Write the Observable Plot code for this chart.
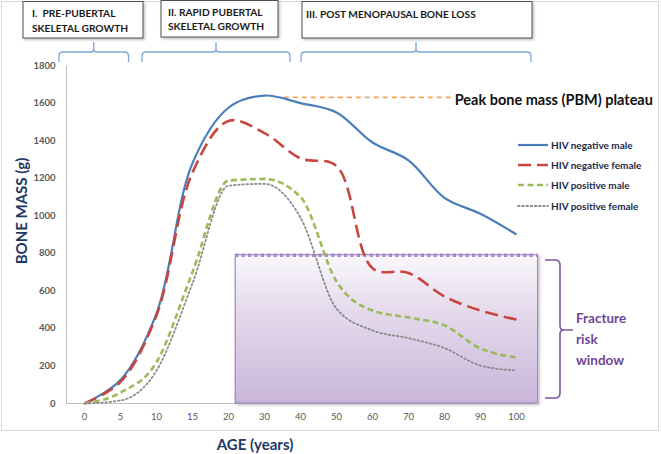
<!DOCTYPE html>
<html>
<head>
<meta charset="utf-8">
<script src="https://cdn.jsdelivr.net/npm/d3@7"></script>
<script src="https://cdn.jsdelivr.net/npm/@observablehq/plot@0.6"></script>
<style>
  html, body { margin: 0; padding: 0; background: #fff; }
  #chart { width: 661px; height: 454px; position: relative; }
</style>
</head>
<body>
<div id="chart"></div>
<script>
// ---- data ----
const ages = [0, 5, 10, 15, 20, 30, 40, 50, 60, 70, 80, 90, 100];
const hivNegMale   = [0, 125, 480, 1280, 1575, 1640, 1600, 1550, 1390, 1295, 1095, 1010, 900];
const hivNegFemale = [0, 115, 470, 1230, 1505, 1440, 1305, 1265, 720, 695, 570, 495, 447];
const hivPosMale   = [0, 58, 220, 700, 1187, 1196, 1100, 650, 495, 458, 416, 293, 245];
const hivPosFemale = [0, 16, 175, 640, 1160, 1170, 990, 505, 389, 348, 295, 202, 176];
const yTicks = [0, 200, 400, 600, 800, 1000, 1200, 1400, 1600, 1800];
const seriesNames = ["HIV negative male", "HIV negative female", "HIV positive male", "HIV positive female"];
const phaseLabels = [["I.  PRE-PUBERTAL", "SKELETAL GROWTH"], ["II. RAPID PUBERTAL", "SKELETAL GROWTH"], ["III. POST MENOPAUSAL BONE LOSS"]];
const pbmValue = 1630;          // plateau level
const pbmAges = [35.5, 82];      // extent of plateau marker
const riskTop = 790;             // fracture risk window threshold
const riskAges = [22, 106];      // extent of fracture risk window
const annotationText = "Peak bone mass (PBM) plateau";
const riskText = ["Fracture", "risk", "window"];

// ages are plotted as evenly spaced categories
const agePos = a => a <= 20 ? a / 5 : 4 + (a - 20) / 10;

const colors = ["#4a7ebb", "#c9463f", "#9bbb59", "#8c8c8c"];
const dashes = [null, "13,6", "6,3.5", "1.6,2.6"];
const widths = [2.2, 2.6, 2.6, 1.8];
const curves = ["catmull-rom", "catmull-rom", "monotone-x", "monotone-x"];
const allSeries = [hivNegMale, hivNegFemale, hivPosMale, hivPosFemale];

const font = "Lato, 'Open Sans', sans-serif";

const lineMarks = allSeries.map((vals, s) =>
  Plot.line(ages.map((a, i) => ({pos: agePos(a), v: vals[i]})), {
    x: "pos", y: "v",
    stroke: colors[s], strokeWidth: widths[s],
    strokeDasharray: dashes[s] || undefined,
    curve: curves[s], strokeLinecap: s === 3 ? "round" : "butt"
  })
);

const plot = Plot.plot({
  width: 661, height: 454,
  marginTop: 65, marginBottom: 51, marginLeft: 66, marginRight: 127,
  style: {fontFamily: font, background: "transparent", overflow: "visible"},
  x: {type: "linear", domain: [-0.5, 12.5]},
  y: {domain: [0, 1800]},
  marks: [
    Plot.ruleX([-0.5], {stroke: "#bfbfbf"}),
    Plot.ruleY([0], {stroke: "#bfbfbf"}),
    Plot.axisX(d3.range(ages.length), {tickSize: 0, tickPadding: 9.5, tickFormat: i => String(ages[i]), fill: "#595959", fontSize: 9.5, label: null}),
    Plot.axisY(yTicks, {tickSize: 0, tickPadding: 11, tickFormat: d => String(d), fill: "#595959", fontSize: 9.5, fontWeight: "bold", label: null}),
    Plot.rect([riskAges], {
      x1: d => agePos(d[0]), x2: d => agePos(d[1]), y1: () => 0, y2: () => riskTop,
      fill: "#cbb8da", stroke: "#9f89bb", strokeWidth: 1.2, ariaLabel: "riskwindow"
    }),
    Plot.ruleY([riskTop], {x1: agePos(riskAges[0]), x2: agePos(riskAges[1]), stroke: "#a68ac9", strokeWidth: 3.5, strokeDasharray: "3.2,3.2"}),
    Plot.ruleY([pbmValue], {x1: agePos(pbmAges[0]), x2: agePos(pbmAges[1]), stroke: "#f4a35c", strokeWidth: 1.6, strokeDasharray: "5,4"}),
    Plot.text([annotationText], {x: agePos(pbmAges[1]), y: pbmValue, text: d => d, dx: 3, dy: 3, textAnchor: "start", fontWeight: "bold", fontSize: 14.5, fill: "#111"}),
    ...lineMarks
  ]
});

const svg = d3.select(plot);

// defs: gradient + shadow
const defs = svg.insert("defs", ":first-child");
const grad = defs.append("linearGradient").attr("id", "riskGrad")
  .attr("x1", 0).attr("y1", 0).attr("x2", 0).attr("y2", 1);
grad.append("stop").attr("offset", "0%").attr("stop-color", "#faf8fc");
grad.append("stop").attr("offset", "35%").attr("stop-color", "#e6dced");
grad.append("stop").attr("offset", "100%").attr("stop-color", "#c9b6d9");
const filt = defs.append("filter").attr("id", "shadow").attr("x", "-5%").attr("y", "-5%").attr("width", "115%").attr("height", "115%");
filt.append("feDropShadow").attr("dx", 1.5).attr("dy", 1.5).attr("stdDeviation", 1.2).attr("flood-color", "#000").attr("flood-opacity", 0.25);

// apply gradient to the risk-window rect
svg.selectAll("g").filter(function () { return this.getAttribute("fill") === "#cbb8da"; })
  .attr("fill", "url(#riskGrad)").attr("filter", "url(#shadow)")
  .selectAll("rect").attr("fill", "url(#riskGrad)");

// chart frame
svg.insert("rect", "defs + *").attr("x", 1.5).attr("y", 1.5).attr("width", 657).attr("height", 429)
  .attr("fill", "#fff").attr("stroke", "#d9d9d9");

// header boxes
const boxes = [
  {x: 23, y: 1.5, w: 120, h: 36.5, tx: 32, ty: [17, 32]},
  {x: 161, y: 0.5, w: 117, h: 36.5, tx: 168, ty: [16, 30]},
  {x: 302, y: 1.5, w: 230, h: 36.5, tx: 306, ty: [18]}
];
boxes.forEach((b, i) => {
  svg.append("rect").attr("x", b.x).attr("y", b.y).attr("width", b.w).attr("height", b.h)
    .attr("fill", "#fff").attr("stroke", "#4d4d4d").attr("stroke-width", 1).attr("filter", "url(#shadow)");
  const t = svg.append("text").attr("font-family", font).attr("font-size", 10.2).attr("font-weight", "bold")
    .attr("fill", "#1a1a1a").attr("text-anchor", "start");
  phaseLabels[i].forEach((line, k) => {
    t.append("tspan").attr("x", b.tx).attr("y", b.ty[k]).text(line);
  });
});

// braces under header
const braces = [[59, 128.5], [142, 290], [301, 531]];
braces.forEach(([x1, x2]) => {
  const yt = 52, yb = 62, r = 4, cx = (x1 + x2) / 2;
  const p = `M${x1},${yb} L${x1},${yt + r} Q${x1},${yt} ${x1 + r},${yt} L${cx - 3},${yt} Q${cx},${yt} ${cx},${yt - 3} L${cx},${42}` +
            ` M${cx},${yt - 3} Q${cx},${yt} ${cx + 3},${yt} L${x2 - r},${yt} Q${x2},${yt} ${x2},${yt + r} L${x2},${yb}`;
  svg.append("path").attr("d", p).attr("fill", "none").attr("stroke", "#7ea6d8").attr("stroke-width", 1.3);
});

// legend
const legY = [145, 165, 185, 206];
legY.forEach((y, s) => {
  svg.append("line").attr("x1", 518).attr("x2", 548).attr("y1", y).attr("y2", y)
    .attr("stroke", colors[s]).attr("stroke-width", widths[s])
    .attr("stroke-dasharray", dashes[s] || null).attr("stroke-linecap", s === 3 ? "round" : "butt");
  svg.append("text").attr("x", 551).attr("y", y).attr("dy", "0.35em").attr("text-anchor", "start")
    .attr("font-family", font).attr("font-size", 10).attr("font-weight", "bold").attr("fill", "#1c2a48")
    .text(seriesNames[s]);
});

// fracture risk brace + label
{
  const x0 = 545, xv = 560, xt = 573, yt = 260, ym = 330, yb = 398, r = 5;
  const p = `M${x0},${yt} L${xv - r},${yt} Q${xv},${yt} ${xv},${yt + r} L${xv},${ym - 4} Q${xv},${ym} ${xv + 4},${ym} L${xt},${ym}` +
            ` M${xv + 4},${ym} Q${xv},${ym} ${xv},${ym + 4} L${xv},${yb - r} Q${xv},${yb} ${xv - r},${yb} L${x0},${yb}`;
  svg.append("path").attr("d", p).attr("fill", "none").attr("stroke", "#7b5a9e").attr("stroke-width", 1.6);
  const t = svg.append("text").attr("font-family", font).attr("font-size", 13.5).attr("font-weight", "bold")
    .attr("fill", "#6f4597").attr("text-anchor", "start");
  riskText.forEach((line, k) => t.append("tspan").attr("x", 576).attr("y", 323 + k * 21).text(line));
}

// axis titles
svg.append("text").attr("transform", "translate(27,211) rotate(-90)").attr("text-anchor", "middle")
  .attr("font-family", font).attr("font-size", 15).attr("font-weight", "bold").attr("fill", "#1f3864").text("BONE MASS (g)");
svg.append("text").attr("x", 255).attr("y", 450).attr("text-anchor", "middle")
  .attr("font-family", font).attr("font-size", 15).attr("font-weight", "bold").attr("fill", "#1f3864").text("AGE (years)");

document.getElementById("chart").appendChild(plot);
</script>
</body>
</html>
